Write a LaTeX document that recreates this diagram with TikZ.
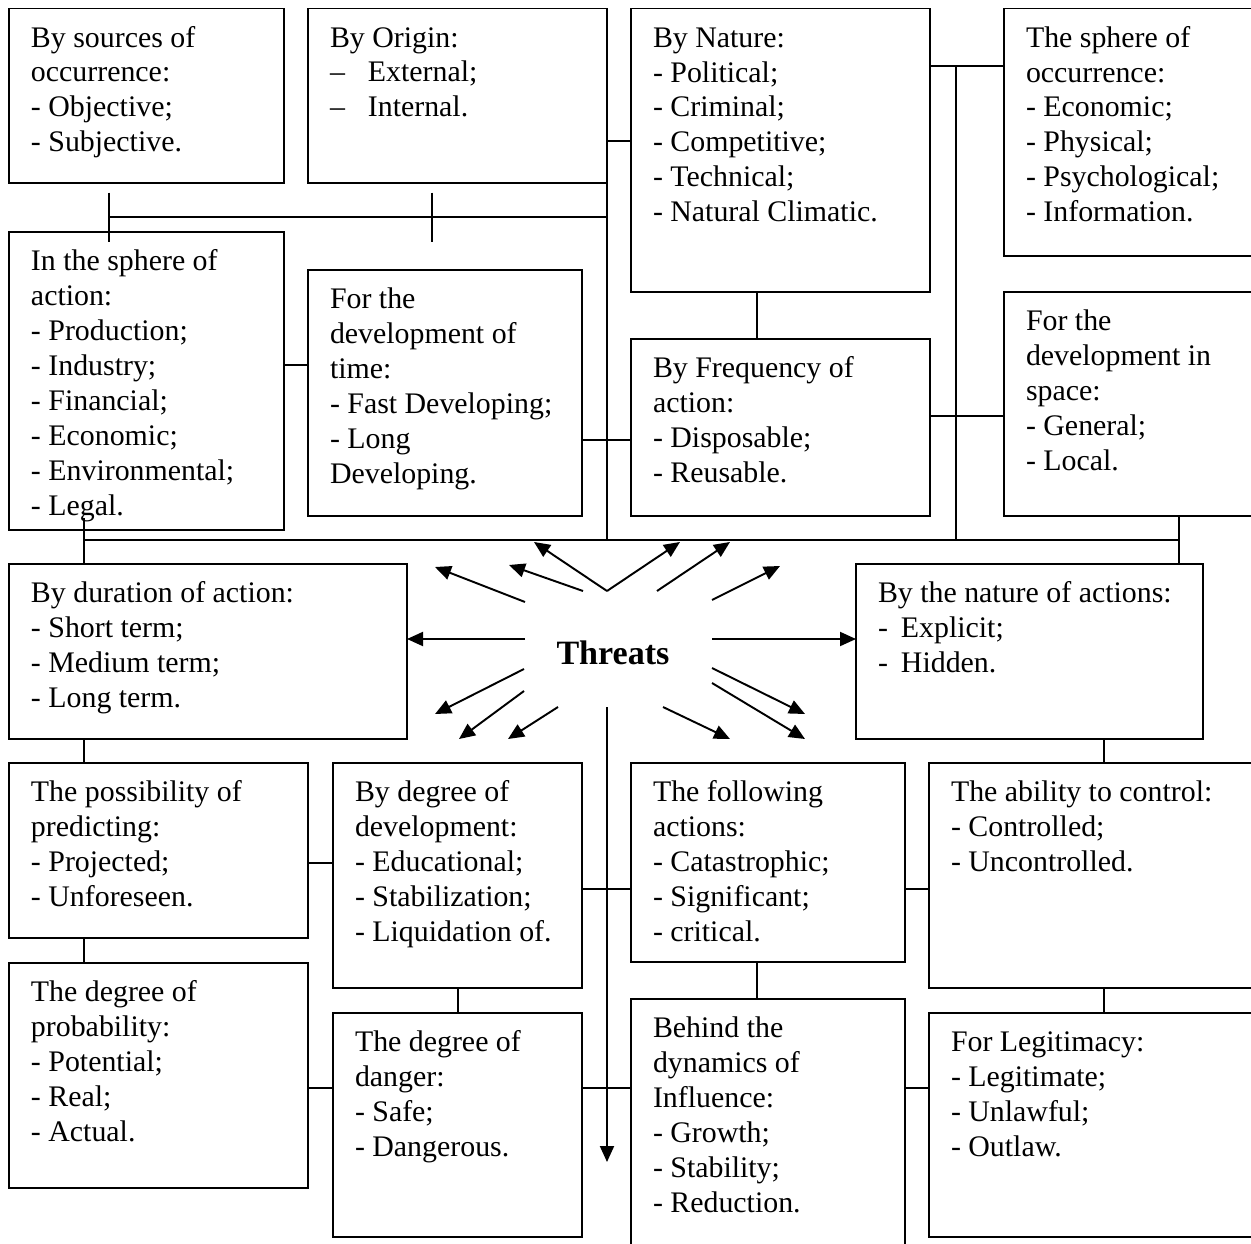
\documentclass[tikz,border=0pt]{standalone}
\usepackage{fontspec}
\setmainfont{Liberation Serif}
\usetikzlibrary{calc,arrows.meta}
\newcommand\tbox[6]{%
  \node[box, minimum width={(#4-#2)*0.02cm}, minimum height={(#5-#3)*0.02cm}] (#1) at (#2,#3) {};
  \node[txt] (#1t) at (#2+22,#3+14) {\strut #6};}
\begin{document}
\begin{tikzpicture}[x=0.02cm,y=-0.02cm, line width=1.1pt,
  box/.style={draw, rectangle, inner sep=0pt, outer sep=0pt, anchor=north west, line width=1.1pt},
  txt/.style={inner sep=0pt, outer sep=0pt, anchor=north west, align=left, font=\fontsize{17}{19.92}\selectfont},
  arr/.style={-{Triangle[length=0.32cm,width=0.28cm]}, line width=1.1pt}]
\useasboundingbox (0,0) rectangle (1251,1244);
\clip (0,0) rectangle (1251,1244);
% boxes
\tbox{src}{9}{8.5}{283.7}{182.7}{By sources of\\occurrence:\\- Objective;\\- Subjective.}
\tbox{org}{308}{8.5}{607}{182.7}{By Origin:\\–\hspace{0.46cm}External;\\–\hspace{0.46cm}Internal.}
\tbox{nat}{631}{8.5}{930}{292}{By Nature:\\- Political;\\- Criminal;\\- Competitive;\\- Technical;\\- Natural Climatic.}
\tbox{occ}{1004}{8.5}{1262}{256}{The sphere of\\occurrence:\\- Economic;\\- Physical;\\- Psychological;\\- Information.}
\tbox{act}{9}{232}{284}{530}{In the sphere of\\action:\\- Production;\\- Industry;\\- Financial;\\- Economic;\\- Environmental;\\- Legal.}
\tbox{tim}{308}{270}{582}{516}{For the\\development of\\time:\\- Fast Developing;\\- Long\\Developing.}
\tbox{frq}{631}{339}{930}{516}{By Frequency of\\action:\\- Disposable;\\- Reusable.}
\tbox{spc}{1004}{292}{1262}{516}{For the\\development in\\space:\\- General;\\- Local.}
\tbox{dur}{9}{564}{407}{739}{By duration of action:\\- Short term;\\- Medium term;\\- Long term.}
\tbox{nac}{856}{564}{1203}{739}{By the nature of actions:\\-\hspace{0.26cm}Explicit;\\-\hspace{0.26cm}Hidden.}
\tbox{prd}{9}{763}{308}{938}{The possibility of\\predicting:\\- Projected;\\- Unforeseen.}
\tbox{dev}{333}{763}{582}{988}{By degree of\\development:\\- Educational;\\- Stabilization;\\- Liquidation of.}
\tbox{fol}{631}{763}{905}{962}{The following\\actions:\\- Catastrophic;\\- Significant;\\- critical.}
\tbox{ctl}{929}{763}{1262}{988}{The ability to control:\\- Controlled;\\- Uncontrolled.}
\tbox{prb}{9}{963}{308}{1188}{The degree of\\probability:\\- Potential;\\- Real;\\- Actual.}
\tbox{dng}{333}{1013}{582}{1237}{The degree of\\danger:\\- Safe;\\- Dangerous.}
\tbox{inf}{631}{999}{905}{1262}{Behind the\\dynamics of\\Influence:\\- Growth;\\- Stability;\\- Reduction.}
\tbox{leg}{929}{1013}{1262}{1237}{For Legitimacy:\\- Legitimate;\\- Unlawful;\\- Outlaw.}
% centre
\node[inner sep=0pt, font=\bfseries\fontsize{19.4}{22}\selectfont] (thr) at (613,653) {Threats};
% junction points
\coordinate (jA) at (109,216.7);
\coordinate (jB) at (432,216.7);
\coordinate (jC) at (607,216.7);
\coordinate (busL) at (84,540);
\coordinate (busR) at (1179,540);
\coordinate (vN) at (956,66);
% connectors
\draw (jA) -- (jC);
\draw ($(jA)+(0,-24)$) -- ($(jA)+(0,25)$);
\draw ($(jB)+(0,-24)$) -- ($(jB)+(0,25)$);
\draw (org.south east) -- (org.south east |- busL);
\draw (busL) -- (busR);
\draw (org.east |- 0,141) -- (nat.west |- 0,141);
\draw (nat.east |- vN) -- (occ.west |- vN);
\draw (vN) -- (vN |- busL);
\draw (nat.south -| 757,0) -- (frq.north -| 757,0);
\draw (act.east |- 0,365) -- (tim.west |- 0,365);
\draw (tim.east |- 0,440) -- (frq.west |- 0,440);
\draw (frq.east |- 0,416) -- (spc.west |- 0,416);
\draw (spc.south -| busR) -- (nac.north -| busR);
\draw (busL |- 0,518) -- (dur.north -| busL);
\draw (dur.south -| busL) -- (prd.north -| busL);
\draw (nac.south -| 1104,0) -- (ctl.north -| 1104,0);
\draw (prd.east |- 0,863) -- (dev.west |- 0,863);
\draw (dev.east |- 0,889) -- (fol.west |- 0,889);
\draw (fol.east |- 0,889) -- (ctl.west |- 0,889);
\draw (prd.south -| busL) -- (prb.north -| busL);
\draw (dev.south -| 458,0) -- (dng.north -| 458,0);
\draw (fol.south -| 757,0) -- (inf.north -| 757,0);
\draw (ctl.south -| 1104,0) -- (leg.north -| 1104,0);
\draw (prb.east |- 0,1088) -- (dng.west |- 0,1088);
\draw (dng.east |- 0,1088) -- (inf.west |- 0,1088);
\draw (inf.east |- 0,1088) -- (leg.west |- 0,1088);
% arrows from Threats
\draw[arr] ($(thr)+(-88,-51)$) -- ($(thr)+(-178,-86)$);
\draw[arr] ($(thr)+(-30,-62)$) -- ($(thr)+(-104,-88)$);
\draw[arr] ($(thr)+(-6,-62)$) -- ($(thr)+(-79,-111)$);
\draw[arr] ($(thr)+(-6,-62)$) -- ($(thr)+(67,-111)$);
\draw[arr] ($(thr)+(44,-62)$) -- ($(thr)+(117,-111)$);
\draw[arr] ($(thr)+(99,-53)$) -- ($(thr)+(167,-87)$);
\draw[arr] ($(thr)+(-88,-14)$) -- (dur.east |- {$(thr)+(0,-14)$});
\draw[arr] ($(thr)+(99,-14)$) -- (nac.west |- {$(thr)+(0,-14)$});
\draw[arr] ($(thr)+(-89,16)$) -- ($(thr)+(-178,61)$);
\draw[arr] ($(thr)+(-89,38)$) -- ($(thr)+(-154,86)$);
\draw[arr] ($(thr)+(-55,54)$) -- ($(thr)+(-105,86)$);
\draw[arr] ($(thr)+(50,54)$) -- ($(thr)+(117,86)$);
\draw[arr] ($(thr)+(99,15)$) -- ($(thr)+(192,61)$);
\draw[arr] ($(thr)+(99,30)$) -- ($(thr)+(192,86)$);
\draw[arr] ($(thr)+(-6,54)$) -- ($(thr)+(-6,509)$);
\end{tikzpicture}
\end{document}
